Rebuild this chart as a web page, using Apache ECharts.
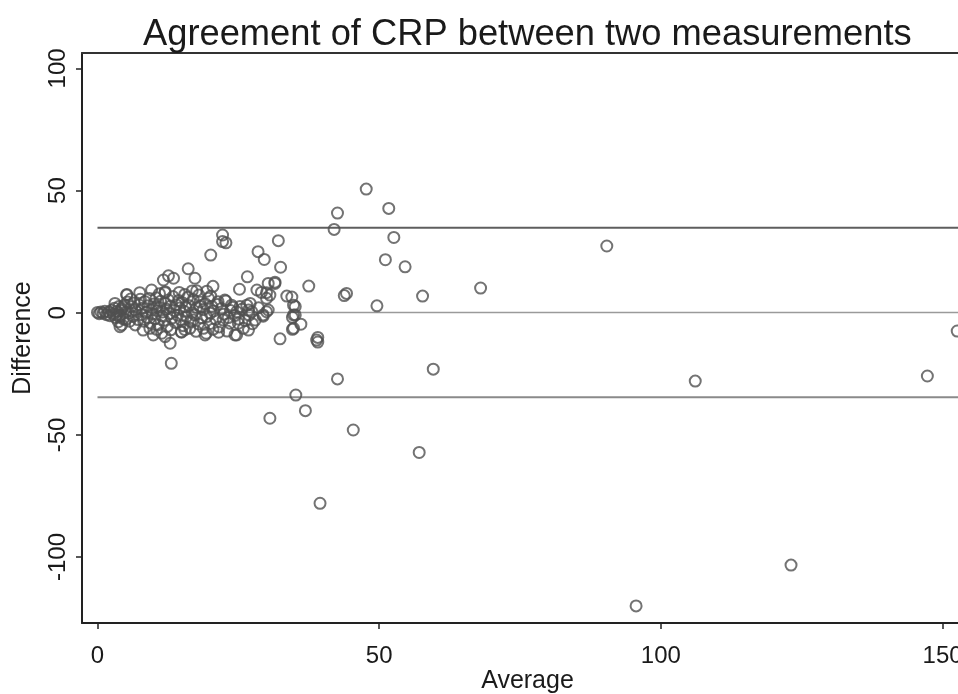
<!DOCTYPE html>
<html>
<head>
<meta charset="utf-8">
<script src="https://cdn.jsdelivr.net/npm/echarts@6/dist/echarts.min.js"></script>
<style>
html,body{margin:0;padding:0;background:#fff;}
#chart{width:958px;height:694px;}
</style>
</head>
<body>
<div id="chart"></div>
<script>
const chartTitle = "Agreement of CRP between two measurements";
const xName = "Average";
const yName = "Difference";
const xTicks = [0, 50, 100, 150];
const yTicks = [-100, -50, 0, 50, 100];
const meanDiff = 0.1;
const loaUpper = 34.8;
const loaLower = -34.6;

const avg = [
0.0,0.3,0.6,1.0,1.3,1.6,2.0,2.2,2.5,2.8,3.0,3.2,3.5,3.8,4.0,4.3,4.6,4.8,5.0,
3.1,3.4,3.7,4.3,5.2,5.5,6.7,6.7,8.1,9.3,9.6,9.9,10.5,11.4,11.7,12.6,13.5,12.0,12.0,12.9,13.1,14.9,16.1,16.4,17.3,17.0,17.6,18.2,18.8,19.1,19.4,20.1,20.1,20.0,20.5,21.4,22.2,22.2,22.8,22.3,22.6,23.5,23.8,24.7,24.7,25.0,25.2,25.9,26.6,26.8,26.8,27.1,28.3,28.5,29.1,29.4,29.6,30.0,30.3,30.3,30.6,31.5,32.1,32.4,32.5,33.6,34.5,34.8,34.8,34.8,35.2,36.1,36.9,37.5,39.1,39.1,39.5,42.0,42.6,42.6,43.8,44.2,45.4,47.7,49.6,51.1,51.7,52.6,54.6,57.1,57.7,59.6,68.0,90.4,95.6,106.1,123.1,147.3,152.6,
34.6,35.1,35.1,34.6,38.9,30.0,29.4,25.3,26.5,24.4,30.0,31.5,30.6,19.3,14.9,4.0,5.2,12.0,27.4,
6.0,6.3,6.5,6.9,7.2,7.4,7.6,7.8,8.0,8.2,8.4,8.6,8.8,9.0,9.2,9.4,9.6,9.8,10.0,10.2,10.4,10.6,10.8,11.0,11.2,11.4,11.6,11.8,12.0,12.2,12.4,12.6,12.8,13.0,13.2,13.4,13.6,13.8,14.0,14.2,14.4,14.6,14.8,15.0,15.2,15.4,15.6,15.8,16.0,16.2,16.5,16.8,17.0,17.3,17.6,17.9,18.2,18.5,18.8,19.1,19.4,19.7,20.0,20.3,20.6,21.0,21.3,21.6,22.0,22.4,22.8,23.2,23.6,24.0,24.4,25.0,25.6,26.2,26.9,27.5,28.0,28.6,
4.5,5.0,5.3,5.7,5.9,3.9,4.1,
11.0,14.5,15.5,16.8,18.0,13.0,15.5,17.5,20.5,21.5,23.0,10.5,7.5
];
const diff = [
0.1,-0.4,0.3,-0.2,0.6,-0.8,0.3,-1.2,1.0,-0.5,1.8,-2.0,0.6,2.5,-1.0,1.5,-2.5,3.2,0.2,
3.8,-0.9,-3.7,-5.0,7.5,-0.2,1.1,-5.0,-7.1,-6.4,9.3,-9.1,2.5,-8.4,13.4,15.1,14.1,8.6,-9.8,-12.5,-20.7,-8.0,18.0,-6.4,14.1,-3.0,9.0,2.5,-6.4,-9.1,8.8,23.6,6.8,-0.2,10.8,4.5,31.8,29.1,28.6,-3.0,5.2,-4.3,3.1,0.4,-9.1,-4.3,9.6,-6.4,14.7,-7.1,1.1,3.8,9.3,25.0,8.3,-0.9,21.8,5.9,12.0,1.1,-43.2,12.5,29.5,-10.7,18.6,6.8,6.4,-0.9,-6.4,3.1,-33.7,-4.7,-40.1,10.9,-10.1,-12.0,-78.0,34.1,40.8,-27.1,7.0,7.9,-48.0,50.6,2.8,21.7,42.7,30.8,18.8,-57.2,6.8,-23.1,10.1,27.3,-120.0,-28.0,-103.3,-25.9,-7.5,
-6.8,2.5,-0.9,-1.9,-11.2,0.4,-1.4,2.5,3.1,-9.1,8.2,12.0,7.2,-8.4,-7.8,-5.7,7.2,8.2,0.4,
2.5,-1.5,4.0,0.5,-2.8,3.2,5.5,-0.8,1.8,-3.5,4.6,0.2,-1.9,2.9,5.8,-4.2,1.0,-0.5,3.6,-2.4,6.1,0.8,-4.9,2.2,4.7,-1.3,0.3,-3.1,3.9,1.5,-5.6,5.2,-0.4,2.7,-2.2,6.6,0.9,-4.0,3.3,-1.0,5.0,1.9,-2.9,4.2,-5.3,0.6,2.4,-1.7,6.3,3.0,-3.6,0.0,5.4,-0.9,2.1,-4.6,4.4,-2.1,1.3,3.7,-1.6,5.9,-4.4,2.6,0.7,-2.6,3.4,-5.8,1.7,-0.6,4.8,-2.0,0.9,2.2,-1.1,-2.6,1.4,-3.3,-1.0,-4.5,-3.0,2.0,
2.3,-2.8,4.4,-3.5,5.6,-1.8,0.9,
7.8,8.3,7.5,8.9,7.2,-7.0,-6.9,-7.6,-6.8,-8.0,-7.5,-6.8,8.2
];

const points = avg.map((a, i) => [a, diff[i]]);
const xMin = -2.75, xMax = 155.4, yMin = -127, yMax = 106.3;
const lineEnd = 170;

const chart = echarts.init(document.getElementById('chart'), null, {renderer: 'canvas'});
const font = 'Liberation Sans, Arial, sans-serif';
const hline = (v, color, w) => ({
  type: 'line', data: [[0, v], [lineEnd, v]], symbol: 'none', silent: true,
  lineStyle: {color: color, width: w}, z: 1, clip: true, animation: false
});
chart.setOption({
  animation: false,
  backgroundColor: '#fff',
  title: {
    text: chartTitle, left: 143, top: 17, padding: 0,
    textStyle: {fontFamily: font, fontSize: 36.3, fontWeight: 'normal', color: '#1a1a1a'}
  },
  grid: {left: 82, right: -15, top: 53, bottom: 71, containLabel: false, outerBoundsMode: 'none'},
  xAxis: [{
    type: 'value', min: xMin, max: xMax,
    name: xName, nameLocation: 'middle', nameGap: 46, nameMoveOverlap: false,
    nameTextStyle: {fontFamily: font, fontSize: 25, color: '#1a1a1a'},
    axisLine: {show: true, onZero: false, lineStyle: {color: '#222', width: 2}},
    axisTick: {show: true, length: 6, lineStyle: {color: '#222', width: 1.5}, customValues: xTicks},
    axisLabel: {fontFamily: font, fontSize: 24, color: '#1a1a1a', margin: 21, customValues: xTicks},
    splitLine: {show: false}
  }, {
    type: 'value', min: xMin, max: xMax, position: 'top',
    axisLine: {show: true, onZero: false, lineStyle: {color: '#333', width: 2}},
    axisTick: {show: false}, axisLabel: {show: false}, splitLine: {show: false}
  }],
  yAxis: {
    type: 'value', min: yMin, max: yMax,
    name: yName, nameLocation: 'middle', nameGap: 46, nameMoveOverlap: false,
    nameTextStyle: {fontFamily: font, fontSize: 25, color: '#1a1a1a'},
    axisLine: {show: true, onZero: false, lineStyle: {color: '#222', width: 2}},
    axisTick: {show: true, length: 6, lineStyle: {color: '#222', width: 1.5}, customValues: yTicks},
    axisLabel: {fontFamily: font, fontSize: 24, color: '#1a1a1a', margin: 12, rotate: 90, customValues: yTicks},
    splitLine: {show: false}
  },
  series: [
    hline(loaUpper, '#5e5e5e', 2),
    hline(meanDiff, '#9a9a9a', 1.6),
    hline(loaLower, '#8a8a8a', 2),
    {
      type: 'scatter', data: points, symbol: 'circle', symbolSize: 11,
      itemStyle: {color: 'rgba(255,255,255,0)', borderColor: '#505050', borderWidth: 2},
      z: 3, clip: true, emphasis: {disabled: true}
    }
  ]
});
</script>
</body>
</html>
